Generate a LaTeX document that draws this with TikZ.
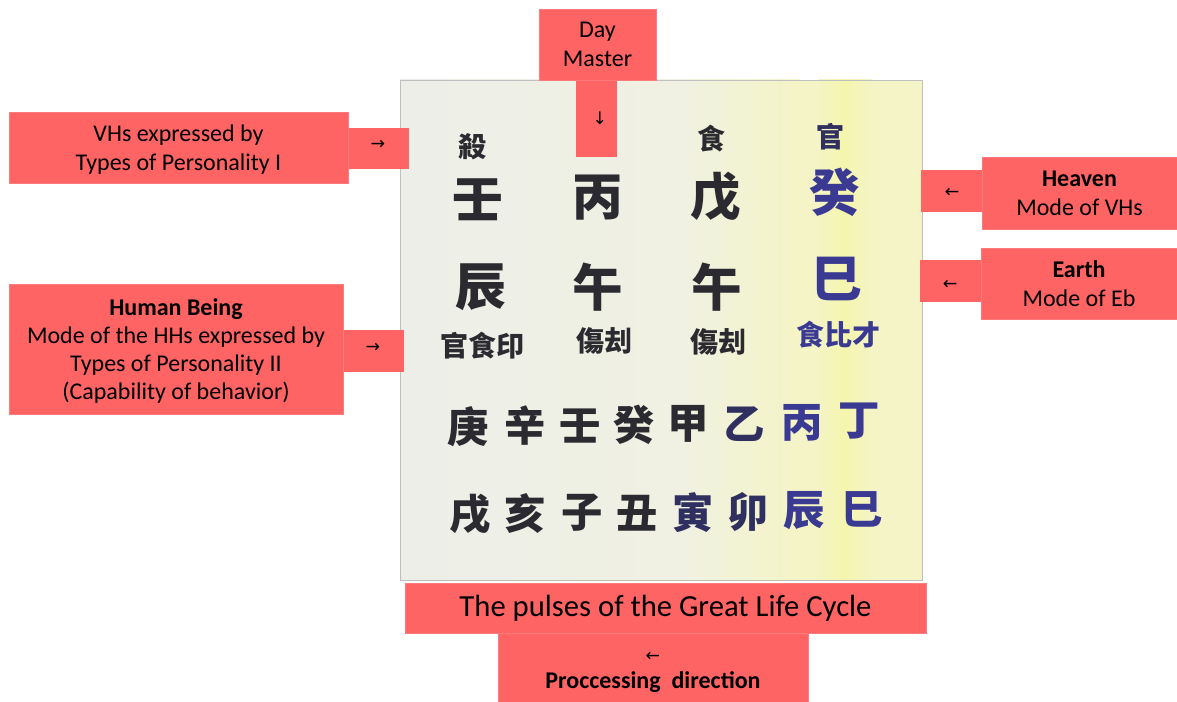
\documentclass[tikz,border=0pt]{standalone}
\usepackage{fontspec}
\setmainfont{Carlito}
\newfontfamily\cjk{Noto Sans CJK TC}
\newfontfamily\symf{DejaVu Sans}
\usetikzlibrary{fit}
\definecolor{boxred}{HTML}{FF6464}
\definecolor{ink}{HTML}{2A2A30}
\definecolor{blueink}{HTML}{3A3A92}
\definecolor{navyink}{HTML}{2F2F60}
\definecolor{paperL}{HTML}{EDEEE8}
\definecolor{paperM}{HTML}{F0F1E2}
\definecolor{paperR}{HTML}{F4F4C6}
\tikzset{
  box/.style={fill=boxred, draw=boxred!85!white, line width=0.5pt, inner sep=0pt},
  txt/.style={align=center, inner sep=0pt, font=\fontsize{18}{21.5}\selectfont, text=black},
  stem/.style={fill=boxred, draw=none, inner sep=0pt},
  arw/.style={inner sep=0pt, font=\symf\fontsize{13}{14}\selectfont, text=black},
  bigc/.style={font=\cjk\bfseries\fontsize{38}{38}\selectfont, text=ink, inner sep=0pt},
  midc/.style={font=\cjk\bfseries\fontsize{31}{31}\selectfont, text=ink, inner sep=0pt},
  smallc/.style={font=\cjk\bfseries\fontsize{21}{21}\selectfont, text=ink, inner sep=0pt},
  blue/.style={text=blueink},
  navy/.style={text=navyink}
}
\begin{document}
\begin{tikzpicture}[x=0.75pt, y=-0.75pt]
\useasboundingbox (0,0) rectangle (1177,702);
\fill[white] (0,0) rectangle (1177,702);
% scanned page
\fill[left color=paperL, right color=paperM] (400,80) rectangle (680,580);
\fill[left color=paperM, right color=paperR] (680,80) rectangle (800,580);
\fill[paperR] (800,80) rectangle (922,580);
\fill[left color=paperR, right color=yellow!12!paperR] (818,80) rectangle (845,580);
\fill[left color=yellow!12!paperR, right color=paperR] (845,80) rectangle (872,580);
\node[draw=black!25, line width=0.6pt, inner sep=0pt, fit={(400,80)(922,580)}] (scan) {};
% characters on the page
\node[smallc] (t1) at (472,147) {殺};
\node[smallc] (t3) at (711,139) {食};
\node[smallc, navy] (t4) at (830,137) {官};
\node[bigc] (s1) at (478,200) {壬};
\node[bigc] (s2) at (598,198) {丙};
\node[bigc] (s3) at (716,197) {戊};
\node[bigc, blue] (s4) at (835,192) {癸};
\node[bigc] (b1) at (481,287) {辰};
\node[bigc] (b2) at (598,287) {午};
\node[bigc] (b3) at (717,287) {午};
\node[bigc, blue] (b4) at (837,279) {巳};
\node[smallc] (h1) at (482,346) {官食印};
\node[smallc] (h2) at (604,341) {傷刦};
\node[smallc] (h3) at (718,342) {傷刦};
\node[smallc, blue] (h4) at (838,335) {食比才};
\node[midc] (p1) at (468,427) {庚};
\node[midc] (p2) at (525,426) {辛};
\node[midc] (p3) at (580,426) {壬};
\node[midc] (p4) at (634,425) {癸};
\node[midc] (p5) at (688,424) {甲};
\node[midc, navy] (p6) at (744,424) {乙};
\node[midc, blue] (p7) at (802,423) {丙};
\node[midc, blue] (p8) at (859,421) {丁};
\node[midc] (q1) at (470,514) {戌};
\node[midc] (q2) at (525,514) {亥};
\node[midc] (q3) at (582,513) {子};
\node[midc] (q4) at (637,513) {丑};
\node[midc, navy] (q5) at (693,513) {寅};
\node[midc, navy] (q6) at (748,512) {卯};
\node[midc, blue] (q7) at (804,511) {辰};
\node[midc, blue] (q8) at (862,509) {巳};
% Day Master callout
\node[stem, fit={(576,80)(617,157)}] (dmS) {};
\node[arw] (dmA) at (600,118) {↓};
\node[box, fit={(539,9)(656,80)}] (dm) {};
\node[txt] (dmT) at (dm.center) {Day\\Master};
% VHs callout
\node[stem, fit={(348,128)(409,169)}] (vhS) {};
\node[arw] (vhA) at (378,145) {→};
\node[box, fit={(9,112)(348,183)}] (vh) {};
\node[txt] (vhT) at ([yshift=-1.5pt]vh.center) {VHs expressed by\\Types of Personality I};
% Human Being callout
\node[stem, fit={(343,330)(404,372)}] (hbS) {};
\node[arw] (hbA) at (373,348) {→};
\node[box, fit={(9,284)(343,414)}] (hb) {};
\node[txt, font=\fontsize{18}{21}\selectfont] (hbT) at ([yshift=-1.5pt]hb.center) {\textbf{Human Being}\\Mode of the HHs expressed by\\Types of Personality II\\(Capability of behavior)};
% Heaven callout
\node[stem, fit={(921,170)(982,212)}] (hvS) {};
\node[arw] (hvA) at (952,193) {←};
\node[box, fit={(982,157)(1177,229)}] (hv) {};
\node[txt] (hvT) at (hv.center) {\textbf{Heaven}\\Mode of VHs};
% Earth callout
\node[stem, fit={(920,260)(981,302)}] (eaS) {};
\node[arw] (eaA) at (950,285) {←};
\node[box, fit={(981,248)(1177,319)}] (ea) {};
\node[txt] (eaT) at (ea.center) {\textbf{Earth}\\Mode of Eb};
% bottom
\node[box, fit={(405,583)(926,633)}] (pl) {};
\node[txt, font=\fontsize{23}{27}\selectfont] (plT) at (pl.center) {The pulses of the Great Life Cycle};
\node[box, fit={(498,633)(808,702)}] (pd) {};
\node[arw] (pdA) at (653,657) {←};
\node[txt] (pdT) at (653,682) {\textbf{Proccessing\ \ direction}};
\end{tikzpicture}
\end{document}
